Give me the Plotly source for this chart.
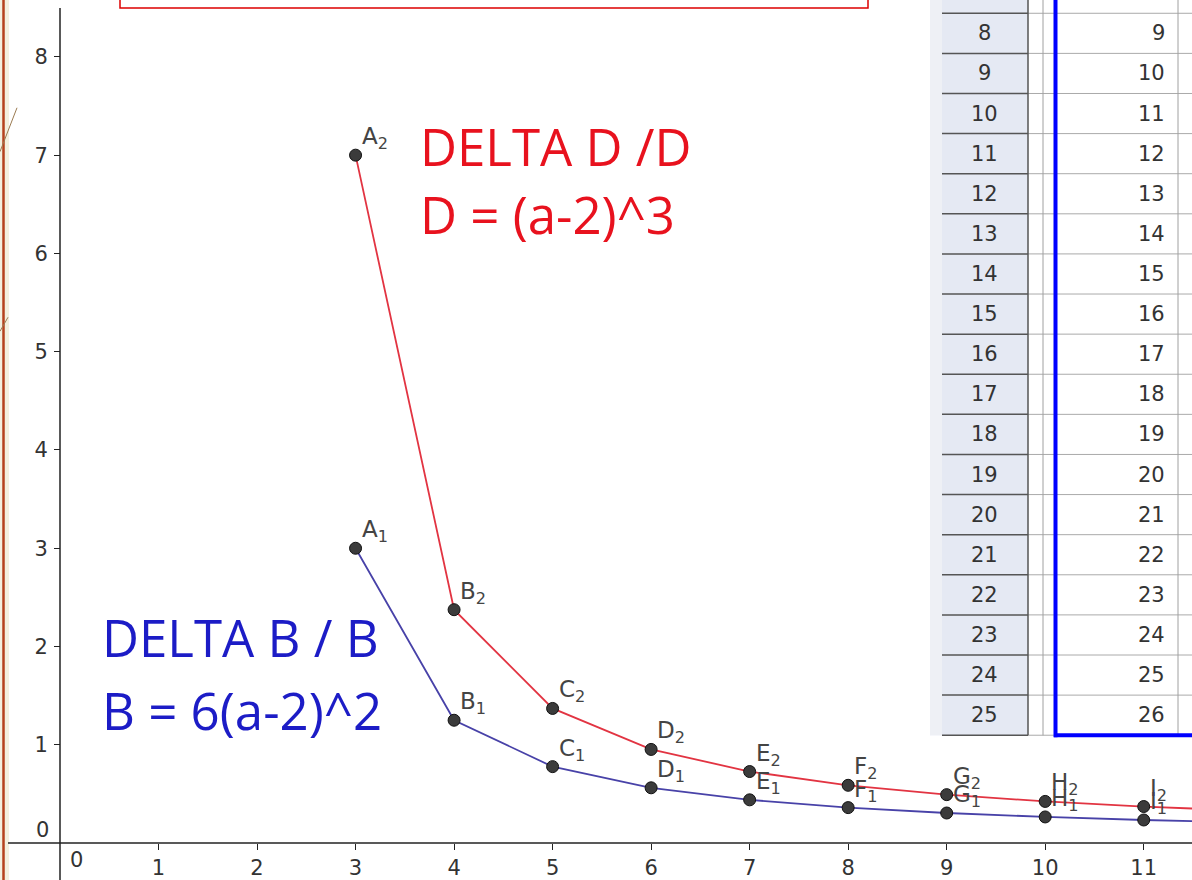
import plotly.graph_objects as go

# ---- data -------------------------------------------------------------
a_vals = [3, 4, 5, 6, 7, 8, 9, 10, 11, 12]
delta_d_over_d = [7.0, 2.375, 1.370, 0.953, 0.728, 0.588, 0.493, 0.424, 0.372, 0.331]
delta_b_over_b = [3.0, 1.25, 0.778, 0.5625, 0.44, 0.361, 0.306, 0.266, 0.235, 0.21]
point_names = ["A", "B", "C", "D", "E", "F", "G", "H", "I"]

x_ticks = [1, 2, 3, 4, 5, 6, 7, 8, 9, 10, 11]
y_ticks = [1, 2, 3, 4, 5, 6, 7, 8]

# spreadsheet view beside the graphics view
row_headers = ["7", "8", "9", "10", "11", "12", "13", "14", "15", "16",
               "17", "18", "19", "20", "21", "22", "23", "24", "25"]
cell_values = ["8", "9", "10", "11", "12", "13", "14", "15", "16", "17",
               "18", "19", "20", "21", "22", "23", "24", "25", "26"]

# ---- page geometry ----------------------------------------------------
W, H = 1192, 880
X_RANGE = [-0.609, 11.49]
Y_RANGE = [-0.3553, 8.579]
RED_LINE = "rgb(226,52,66)"
BLUE_LINE = "rgb(72,66,168)"
RED_TEXT = "#e8121e"
BLUE_TEXT = "#1c1cc6"
TICK_FONT = dict(family="DejaVu Sans", size=21, color="#333333")


def px(x):
    return x / W


def py(y):
    return 1 - y / H


def pline(x0, y0, x1, y1, color, width):
    return dict(type="line", xref="paper", yref="paper",
                x0=px(x0), y0=py(y0), x1=px(x1), y1=py(y1),
                line=dict(color=color, width=width), layer="above")


def prect(x0, y0, x1, y1, fill, line_color=None, width=0):
    return dict(type="rect", xref="paper", yref="paper",
                x0=px(x0), y0=py(y0), x1=px(x1), y1=py(y1),
                fillcolor=fill,
                line=dict(color=line_color or "rgba(0,0,0,0)", width=width),
                layer="above")


fig = go.Figure()

# ---- curves and points ------------------------------------------------
fig.add_trace(go.Scatter(x=a_vals, y=delta_d_over_d, mode="lines",
                         line=dict(color=RED_LINE, width=1.8), hoverinfo="skip"))
fig.add_trace(go.Scatter(x=a_vals, y=delta_b_over_b, mode="lines",
                         line=dict(color=BLUE_LINE, width=1.8), hoverinfo="skip"))

n_pts = len(point_names)
for series in (delta_d_over_d, delta_b_over_b):
    fig.add_trace(go.Scatter(
        x=a_vals[:n_pts], y=series[:n_pts], mode="markers",
        marker=dict(size=12, color="#3b3b3b", line=dict(color="#111111", width=1)),
        hoverinfo="skip"))

annotations = []
for i, name in enumerate(point_names):
    for series, idx in ((delta_d_over_d, "2"), (delta_b_over_b, "1")):
        annotations.append(dict(
            x=a_vals[i], y=series[i], xref="x", yref="y",
            text=f"{name}<sub>{idx}</sub>", showarrow=False,
            xanchor="left", yanchor="bottom", xshift=4, yshift=0,
            font=dict(family="DejaVu Sans", size=23, color="#444444")))

# ---- text blocks ------------------------------------------------------
big_font = "Open Sans"
for text, y, color, x in (
        ("DELTA D /D", 146, RED_TEXT, 418),
        ("D = (a-2)^3", 214, RED_TEXT, 418),
        ("DELTA B / B", 638, BLUE_TEXT, 100),
        ("B = 6(a-2)^2", 712, BLUE_TEXT, 100)):
    annotations.append(dict(
        x=px(x), y=py(y), xref="paper", yref="paper", text=text,
        showarrow=False, xanchor="left", yanchor="middle",
        font=dict(family=big_font, size=51, color=color)))

# origin labels
annotations.append(dict(x=px(76), y=py(862), xref="paper", yref="paper",
                        text="0", showarrow=False, xanchor="center",
                        yanchor="middle", font=TICK_FONT))
annotations.append(dict(x=px(42), y=py(832), xref="paper", yref="paper",
                        text="0", showarrow=False, xanchor="center",
                        yanchor="middle", font=TICK_FONT))

# ---- shapes: frame, axes lines, spreadsheet ---------------------------
shapes = []
shapes.append(prect(0, -2, 9, 882, "#f3f0de"))
shapes.append(pline(3.5, -2, 3.5, 882, "#b5421c", 2.5))
shapes.append(pline(0, 152, 17, 108, "#9a7a50", 1))
shapes.append(pline(0, 332, 8, 318, "#9a7a50", 1))

# axis lines
shapes.append(pline(8, 845, 1194, 845, "#222222", 1.5))
shapes.append(pline(60, 8, 60, 882, "#222222", 1.5))

# text box outline at the top
shapes.append(prect(120, -10, 868, 8, "rgba(0,0,0,0)", "#dd0000", 1.5))

# spreadsheet
TOP, BOTTOM = -5, 737
shapes.append(prect(930, TOP, 1028, BOTTOM, "#e5e9f3"))
shapes.append(prect(930, TOP, 942, BOTTOM, "#eef0f5"))
shapes.append(prect(1028, TOP, 1194, BOTTOM, "#ffffff"))
row_h = 40.2
first_line = 13.3
for k in range(len(row_headers)):
    y = first_line + row_h * k
    shapes.append(pline(942, y, 1028, y, "#555555", 1.5))
    shapes.append(pline(1028, y, 1194, y, "#aaaaaa", 1))
shapes.append(pline(1028, TOP, 1028, BOTTOM, "#555555", 1.5))
shapes.append(pline(1043, TOP, 1043, BOTTOM, "#a0a0a0", 1))
shapes.append(pline(1178, TOP, 1178, BOTTOM, "#a0a0a0", 1))
shapes.append(pline(1055.5, TOP, 1055.5, BOTTOM + 2, "#0000ff", 4))
shapes.append(pline(1054, BOTTOM, 1194, BOTTOM, "#0000ff", 4))

table_font = dict(family="DejaVu Sans", size=21, color="#333333")
for k, (hdr, val) in enumerate(zip(row_headers, cell_values)):
    yc = first_line - row_h / 2 + row_h * k
    annotations.append(dict(x=px(984), y=py(yc), xref="paper", yref="paper",
                            text=hdr, showarrow=False, xanchor="center",
                            yanchor="middle", font=table_font))
    annotations.append(dict(x=px(1167), y=py(yc), xref="paper", yref="paper",
                            text=val, showarrow=False, xanchor="right",
                            yanchor="middle", font=table_font))

# ---- layout -----------------------------------------------------------
fig.update_layout(
    width=W, height=H,
    margin=dict(l=0, r=0, t=0, b=0),
    paper_bgcolor="white", plot_bgcolor="white",
    showlegend=False,
    xaxis=dict(range=X_RANGE, anchor="free", position=1 - 845 / H,
               tickvals=x_ticks, ticks="outside", ticklen=6, tickwidth=1,
               tickcolor="#222222", showgrid=False, zeroline=False,
               showline=False, tickfont=TICK_FONT),
    yaxis=dict(range=Y_RANGE, anchor="free", position=60 / W,
               tickvals=y_ticks, ticks="outside", ticklen=6, tickwidth=1,
               tickcolor="#222222", showgrid=False, zeroline=False,
               showline=False, tickfont=TICK_FONT, ticklabelstandoff=2),
    shapes=shapes,
    annotations=annotations,
)

fig.write_html("out.html")
